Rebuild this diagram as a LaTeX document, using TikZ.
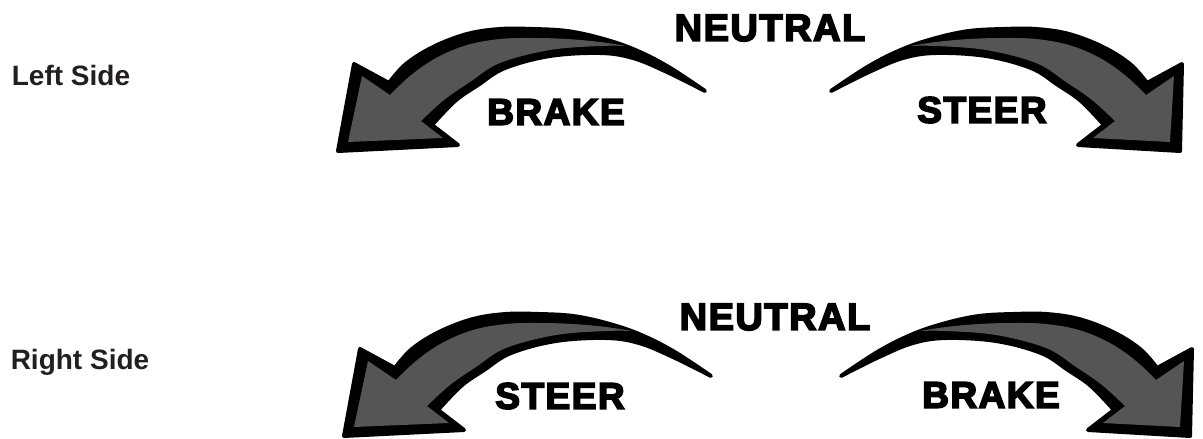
\documentclass[tikz,border=0pt]{standalone}
\usepackage{fontspec}
\setmainfont{Liberation Sans}
\newfontfamily\heavyfont{Liberation Sans Bold}[FakeBold=4.5,LetterSpace=4]
\definecolor{arrowgray}{RGB}{85,85,85}
\definecolor{sidetext}{RGB}{35,31,32}
% #1 = x of the head's tip (local frame)
\newcommand{\curvedarrowshape}[1]{%
  \fill[black, draw=black, line width=4pt, line join=round]
    plot[smooth,tension=0.6] coordinates {(705,91) (667,66) (633,49) (600,38) (567,31) (533,29) (500,29) (467,34) (433,47) (406,64) (389,83)}
    -- (354,64) -- (#1,151) -- (458,145) -- (432,125)
    -- plot[smooth,tension=0.6] coordinates {(432,125) (455,101) (478,85) (505,68) (550,56) (600,53) (633,58) (667,72) (705,91)} -- cycle;
  \fill[arrowgray]
    plot[smooth,tension=0.6] coordinates {(626,46) (600,42) (567,39) (533,38) (500,39) (467,45) (436,58) (410,76) (390,95)}
    -- (362,76) -- ({#1+10},142) -- (443,138) -- (421,121)
    -- plot[smooth,tension=0.6] coordinates {(421,121) (444,100) (470,82) (500,63) (550,50) (600,46) (626,46)} -- cycle;
}
\tikzset{
  sidelabel/.style={font=\fontsize{28}{28}\selectfont\bfseries, text=sidetext, inner sep=0pt},
  arrowlabel/.style={font=\heavyfont\fontsize{37}{37}\selectfont, text=black, inner sep=0pt},
  modelabel/.style={font=\heavyfont\fontsize{38}{38}\selectfont, text=black, inner sep=0pt}
}
\begin{document}
\begin{tikzpicture}[x=1pt,y=-1pt]
\useasboundingbox (0,0) rectangle (1203,439);
\fill[white] (0,0) rectangle (1203,439);
% top row arrows
\begin{scope}
  \curvedarrowshape{338}
\end{scope}
\begin{scope}[shift={(1536,0)},xscale=-1]
  \curvedarrowshape{356}
\end{scope}
% bottom row arrows
\begin{scope}[shift={(6,285)}]
  \curvedarrowshape{338}
\end{scope}
\begin{scope}[shift={(1546,285)},xscale=-1]
  \curvedarrowshape{356}
\end{scope}
% labels
\node[sidelabel] (leftside) at (71,75) {Left Side};
\node[sidelabel] (rightside) at (80,362) {Right Side};
\node[modelabel] (neutraltop) at (770,28) {NEUTRAL};
\node[arrowlabel] (braketop) at (556,112) {BRAKE};
\node[arrowlabel] (steertop) at (982,110) {STEER};
\node[modelabel] (neutralbot) at (775,317) {NEUTRAL};
\node[arrowlabel] (steerbot) at (560,396) {STEER};
\node[arrowlabel] (brakebot) at (991,395) {BRAKE};
\end{tikzpicture}
\end{document}
